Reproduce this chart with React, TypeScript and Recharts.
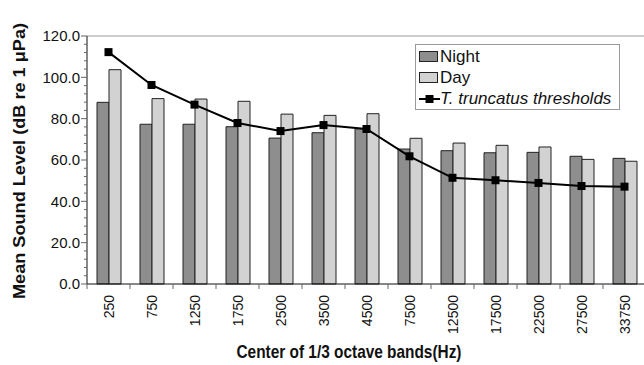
import React from 'react';
import { ComposedChart, Bar, Line, XAxis, YAxis, Legend, ReferenceLine } from 'recharts';

// 1/3 octave band centres (Hz)
const bands = ['250', '750', '1250', '1750', '2500', '3500', '4500', '7500', '12500', '17500', '22500', '27500', '33750'];
const night = [87.9, 77.3, 77.3, 76.1, 70.6, 73.2, 75.1, 65.3, 64.5, 63.5, 63.7, 61.8, 60.8];
const day = [103.7, 89.7, 89.5, 88.4, 82.2, 81.6, 82.4, 70.5, 68.2, 67.1, 66.3, 60.3, 59.4];
const thresholds = [112.2, 96.3, 86.8, 77.9, 74.0, 76.9, 75.0, 61.8, 51.4, 50.2, 48.9, 47.4, 47.1];

const yTicks = [0, 4, 8, 12, 16, 20, 24, 28, 32, 36, 40, 44, 48, 52, 56, 60, 64, 68, 72, 76, 80, 84, 88, 92, 96, 100, 104, 108, 112, 116, 120];
const yLabelled = [0, 20, 40, 60, 80, 100, 120];

const data = bands.map((band, i) => ({ band, night: night[i], day: day[i], threshold: thresholds[i] }));

const FONT = 'Arial, "Liberation Sans", Helvetica, sans-serif';
const NIGHT = '#8e8e8e';
const DAY = '#d2d2d2';

const YTick = (props: any) => {
  const { x, y, payload } = props;
  const major = yLabelled.includes(payload.value);
  return (
    <g>
      <line x1={x - (major ? 6 : 3)} x2={x} y1={y} y2={y} stroke="#666" strokeWidth={1} />
      {major && (
        <text x={x - 7} y={y} dy="0.36em" textAnchor="end" fontSize={15} fill="#111" fontFamily={FONT}>
          {payload.value.toFixed(1)}
        </text>
      )}
    </g>
  );
};

const XTick = (props: any) => {
  const { x, y, payload } = props;
  const half = payload.offset ?? 21.5;
  const ty = y + 11;
  return (
    <g>
      <line x1={x - half} x2={x - half} y1={y} y2={y + 5} stroke="#666" strokeWidth={1} />
      <text
        x={x}
        y={ty}
        dy="0.36em"
        textAnchor="end"
        fontSize={14}
        fill="#111"
        fontFamily={FONT}
        transform={`rotate(-90 ${x} ${ty})`}
      >
        {payload.value}
      </text>
    </g>
  );
};

const Swatch = ({ color }: { color: string }) => (
  <span style={{ display: 'inline-block', width: 17, height: 9, background: color, border: '1px solid #222', marginRight: 2 }} />
);

const LegendBox = () => (
  <div
    style={{
      border: '1px solid #999',
      background: '#fff',
      fontFamily: FONT,
      fontSize: 17,
      color: '#111',
      padding: '1px 0 0 3px',
      lineHeight: '21px',
      width: 200,
      height: 63,
      boxSizing: 'content-box',
      whiteSpace: 'nowrap',
    }}
  >
    <div style={{ display: 'flex', alignItems: 'center' }}>
      <Swatch color={NIGHT} />
      <span>Night</span>
    </div>
    <div style={{ display: 'flex', alignItems: 'center' }}>
      <Swatch color={DAY} />
      <span>Day</span>
    </div>
    <div style={{ display: 'flex', alignItems: 'center' }}>
      <svg width={21} height={10}>
        <line x1={0} x2={21} y1={5} y2={5} stroke="#000" strokeWidth={2} />
        <rect x={6.5} y={1} width={8} height={8} fill="#000" />
      </svg>
      <span style={{ fontStyle: 'italic' }}>T. truncatus thresholds</span>
    </div>
  </div>
);

const YTitle = () => {
  const cx = 19;
  const cy = 161;
  return (
    <text
      x={cx}
      y={cy}
      textAnchor="middle"
      dy="0.36em"
      fontSize={17}
      fontWeight="bold"
      fill="#111"
      fontFamily={FONT}
      textLength={276}
      lengthAdjust="spacingAndGlyphs"
      transform={`rotate(-90 ${cx} ${cy})`}
    >
      Mean Sound Level (dB re 1 μPa)
    </text>
  );
};

// condensed bold caption under the band labels
const XTitle = () => (
  <text
    x={349}
    y={358}
    textAnchor="middle"
    fontSize={19}
    fontWeight="bold"
    fill="#111"
    fontFamily={FONT}
    textLength={225}
    lengthAdjust="spacingAndGlyphs"
  >
    Center of 1/3 octave bands(Hz)
  </text>
);

const Square = (props: any) => {
  const { cx, cy } = props;
  return <rect x={cx - 4} y={cy - 4} width={8} height={8} fill="#000" />;
};

export default function App() {
  return (
    <div style={{ position: 'absolute', left: 0, top: 0, width: 644, height: 365, overflow: 'hidden', background: '#fff' }}>
      <ComposedChart
        width={652}
        height={365}
        data={data}
        margin={{ top: 36, right: 6, left: 0, bottom: 0 }}
        barGap={0}
      >
        <XAxis
          dataKey="band"
          interval={0}
          height={81}
          tick={<XTick />}
          tickLine={false}
          tickSize={0}
          tickMargin={0}
          axisLine={{ stroke: '#111', strokeWidth: 1 }}
          label={<XTitle />}
        />
        <YAxis
          domain={[0, 120]}
          ticks={yTicks}
          interval={0}
          width={87}
          tick={<YTick />}
          tickLine={false}
          tickSize={0}
          tickMargin={0}
          axisLine={{ stroke: '#111', strokeWidth: 1 }}
          label={<YTitle />}
        />
        <ReferenceLine y={120} stroke="#9a9a9a" strokeWidth={1} />
        <Legend
          layout="horizontal"
          verticalAlign="middle"
          align="center"
          content={<LegendBox />}
          wrapperStyle={{ position: 'absolute', left: 415, top: 44, width: 204, height: 66 }}
        />
        <Bar dataKey="night" name="Night" fill={NIGHT} stroke="#222" strokeWidth={1} barSize={12} isAnimationActive={false} />
        <Bar dataKey="day" name="Day" fill={DAY} stroke="#222" strokeWidth={1} barSize={12} isAnimationActive={false} />
        <Line
          dataKey="threshold"
          name="T. truncatus thresholds"
          type="linear"
          stroke="#000"
          strokeWidth={2}
          dot={<Square />}
          activeDot={false}
          isAnimationActive={false}
        />
      </ComposedChart>
    </div>
  );
}
